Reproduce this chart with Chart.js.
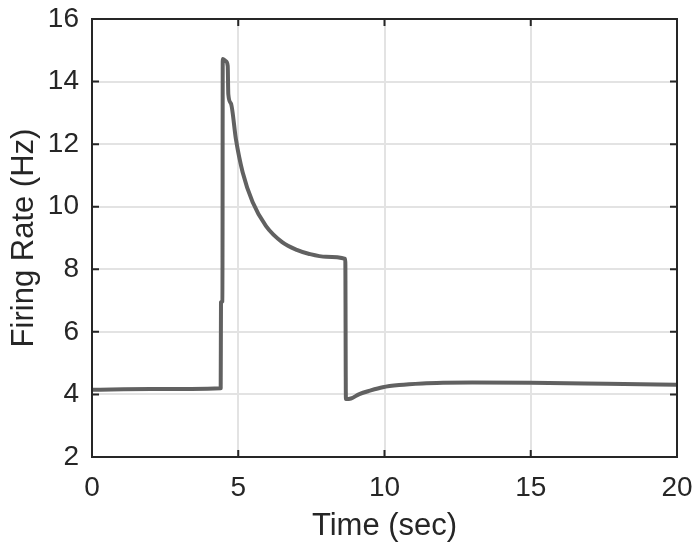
<!DOCTYPE html>
<html>
<head>
<meta charset="utf-8">
<script src="https://cdn.jsdelivr.net/npm/chart.js@4/dist/chart.umd.min.js"></script>
<style>
  html, body { margin: 0; padding: 0; background: #fff; }
  #wrap { width: 699px; height: 551px; }
</style>
</head>
<body>
<div id="wrap"><canvas id="c" width="699" height="551"></canvas></div>
<script>
// values
const timeSec = [0, 2, 4.40, 4.41, 4.46, 4.47, 4.58, 4.64, 4.66, 4.75, 4.92, 5.15, 5.49, 5.95, 6.5, 7.0, 7.43, 8.0, 8.66,
                 8.68, 8.85, 9.14, 9.5, 9.94, 10.5, 11.3, 12, 13, 15, 17.6, 20];
const rateHz  = [4.15, 4.17, 4.2, 6.95, 6.98, 14.72, 14.65, 14.5, 13.6, 13.3, 12.16, 11.1, 10.15, 9.38, 8.87, 8.62, 8.49, 8.4, 8.33,
                 3.85, 3.87, 4.01, 4.12, 4.23, 4.3, 4.35, 4.37, 4.38, 4.37, 4.34, 4.31];
const xTicks = [0, 5, 10, 15, 20];
const yTicks = [2, 4, 6, 8, 10, 12, 14, 16];

const FONT = 'Liberation Sans, Arial, Helvetica, sans-serif';
const AXIS_COLOR = '#262626';

// MATLAB-style box with inward tick marks
const boxPlugin = {
  id: 'box',
  afterDraw(chart) {
    const { ctx, chartArea: a, scales } = chart;
    const len = 7;
    ctx.save();
    ctx.strokeStyle = AXIS_COLOR;
    ctx.lineWidth = 2;
    ctx.beginPath();
    scales.x.ticks.forEach(t => {
      const px = scales.x.getPixelForValue(t.value);
      ctx.moveTo(px, a.bottom); ctx.lineTo(px, a.bottom - len);
      ctx.moveTo(px, a.top); ctx.lineTo(px, a.top + len);
    });
    scales.y.ticks.forEach(t => {
      const py = scales.y.getPixelForValue(t.value);
      ctx.moveTo(a.left, py); ctx.lineTo(a.left + len, py);
      ctx.moveTo(a.right, py); ctx.lineTo(a.right - len, py);
    });
    ctx.stroke();
    ctx.strokeRect(a.left, a.top, a.right - a.left, a.bottom - a.top);
    ctx.restore();
  }
};

new Chart(document.getElementById('c'), {
  type: 'line',
  data: {
    datasets: [{
      data: timeSec.map((t, i) => ({ x: t, y: rateHz[i] })),
      borderColor: '#616161',
      borderWidth: 4,
      pointRadius: 0,
      cubicInterpolationMode: 'monotone',
      borderJoinStyle: 'round',
      borderCapStyle: 'round',
    }]
  },
  options: {
    responsive: false,
    animation: false,
    layout: { padding: { left: 0, right: 22, top: 19, bottom: 0 } },
    plugins: { legend: { display: false }, tooltip: { enabled: false } },
    scales: {
      x: {
        type: 'linear',
        min: 0, max: 20,
        afterBuildTicks: s => { s.ticks = xTicks.map(v => ({ value: v })); },
        afterFit: s => { s.height = 94; s.paddingLeft = 0; s.paddingRight = 0; },
        grid: { color: '#e3e3e3', lineWidth: 2, drawTicks: false },
        border: { display: false },
        ticks: { color: AXIS_COLOR, font: { family: FONT, size: 28 }, padding: 14, maxRotation: 0 },
        title: { display: true, text: 'Time (sec)', color: AXIS_COLOR, font: { family: FONT, size: 31 }, padding: { top: 0, bottom: 6 } }
      },
      y: {
        min: 2, max: 16,
        afterBuildTicks: s => { s.ticks = yTicks.map(v => ({ value: v })); },
        afterFit: s => { s.width = 92; s.paddingTop = 0; s.paddingBottom = 0; },
        grid: { color: '#e3e3e3', lineWidth: 2, drawTicks: false },
        border: { display: false },
        ticks: { color: AXIS_COLOR, font: { family: FONT, size: 28 }, padding: 13 },
        title: { display: true, text: 'Firing Rate (Hz)', color: AXIS_COLOR, font: { family: FONT, size: 31 }, padding: { top: 6, bottom: 0 } }
      }
    }
  },
  plugins: [boxPlugin]
});
</script>
</body>
</html>
